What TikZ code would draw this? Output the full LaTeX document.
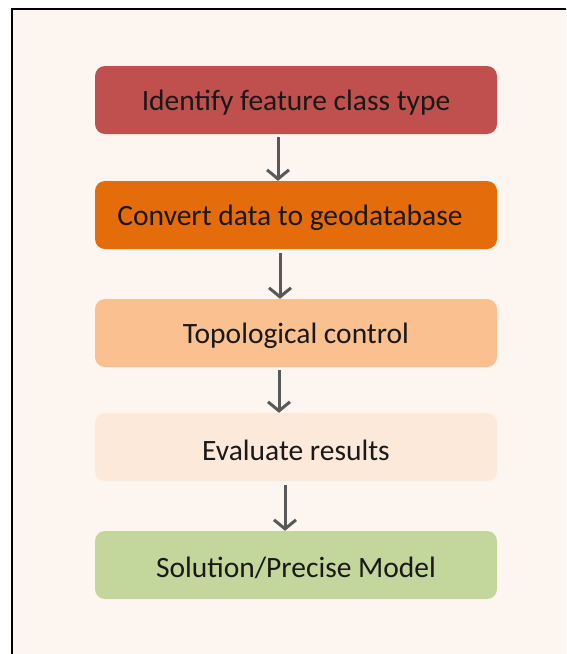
\documentclass[tikz,border=0pt]{standalone}
\usepackage{fontspec}
\setmainfont{Carlito}
\usetikzlibrary{arrows.meta}
\definecolor{bgc}{HTML}{FDF5F0}
\definecolor{c1}{HTML}{C0504D}
\definecolor{c2}{HTML}{E46C0A}
\definecolor{c3}{HTML}{FAC090}
\definecolor{c4}{HTML}{FDE9D9}
\definecolor{c5}{HTML}{C3D69B}
\definecolor{arr}{HTML}{595959}
\begin{document}
\begin{tikzpicture}[x=1pt,y=-1pt,
  stepbox/.style={rectangle, rounded corners=10pt, minimum width=402pt, minimum height=68pt, inner sep=0pt},
  steptext/.style={font=\fontsize{29.5}{34}\selectfont, text=black!90, inner sep=0pt},
  flowarrow/.style={draw=arr, line width=3pt, -{Straight Barb[length=9pt,width=22pt,line width=3pt]}}]
\useasboundingbox (0,0) rectangle (566,654);
\fill[white] (0,0) rectangle (566,654);
\fill[bgc] (12,9) rectangle (566,654);
\draw[line width=2pt] (12,654) -- (12,9) -- (566,9);
\node[stepbox, fill=c1] (s1) at (296,100) {};
\node[stepbox, fill=c2] (s2) at (296,215) {};
\node[stepbox, fill=c3] (s3) at (296,333) {};
\node[stepbox, fill=c4] (s4) at (296,447) {};
\node[stepbox, fill=c5] (s5) at (296,565) {};
\node[steptext] (t1) at ([yshift=-3pt]s1.center) {Identify feature class type};
\node[steptext] (t2) at ([xshift=-6pt,yshift=-3pt]s2.center) {Convert data to geodatabase};
\node[steptext] (t3) at ([yshift=-3pt]s3.center) {Topological control};
\node[steptext] (t4) at ([yshift=-3pt]s4.center) {Evaluate results};
\node[steptext] (t5) at ([yshift=-3pt]s5.center) {Solution/Precise Model};
\draw[flowarrow] ([xshift=-18pt,yshift=-3pt]s1.south) -- ([xshift=-18pt]s2.north);
\draw[flowarrow] ([xshift=-16pt,yshift=-4pt]s2.south) -- ([xshift=-16pt]s3.north);
\draw[flowarrow] ([xshift=-17pt,yshift=-3pt]s3.south) -- ([xshift=-17pt]s4.north);
\draw[flowarrow] ([xshift=-11pt,yshift=-4pt]s4.south) -- ([xshift=-11pt]s5.north);
\end{tikzpicture}
\end{document}
